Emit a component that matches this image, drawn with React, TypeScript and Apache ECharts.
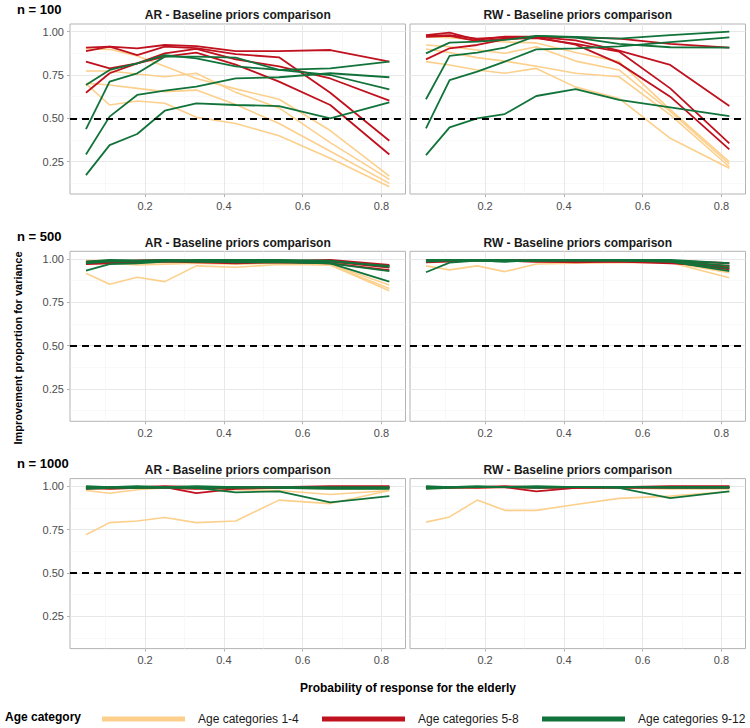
import React, { useEffect, useRef } from "react";
import * as echarts from "echarts";

// x positions (probability of response for the elderly)
const X = [0.05, 0.11, 0.18, 0.25, 0.33, 0.43, 0.54, 0.67, 0.82];

const GROUPS = ["Age categories 1-4", "Age categories 5-8", "Age categories 9-12"];
const COLORS = ["#FCD08C", "#C0111F", "#11733A"];

// ---- n = 100 ----
const ar100_age1_4 = [
  [0.9, 0.898, 0.86, 0.8, 0.73, 0.67, 0.61, 0.43, 0.167],
  [0.773, 0.773, 0.756, 0.74, 0.76, 0.65, 0.56, 0.36, 0.148],
  [0.702, 0.692, 0.673, 0.654, 0.663, 0.58, 0.47, 0.31, 0.125],
  [0.7, 0.577, 0.6, 0.587, 0.506, 0.47, 0.4, 0.27, 0.106],
];
const ar100_age5_8 = [
  [0.908, 0.913, 0.904, 0.923, 0.917, 0.888, 0.888, 0.894, 0.827],
  [0.888, 0.913, 0.865, 0.913, 0.905, 0.87, 0.852, 0.648, 0.371],
  [0.827, 0.788, 0.817, 0.875, 0.9, 0.84, 0.8, 0.73, 0.602],
  [0.648, 0.76, 0.817, 0.856, 0.879, 0.81, 0.712, 0.577, 0.292],
];
const ar100_age9_12 = [
  [0.692, 0.779, 0.817, 0.865, 0.846, 0.8, 0.779, 0.788, 0.827],
  [0.438, 0.712, 0.76, 0.856, 0.856, 0.85, 0.779, 0.75, 0.667],
  [0.292, 0.51, 0.635, 0.66, 0.683, 0.73, 0.737, 0.76, 0.737],
  [0.173, 0.346, 0.41, 0.544, 0.587, 0.577, 0.571, 0.5, 0.592],
];
const rw100_age1_4 = [
  [0.97, 0.965, 0.952, 0.94, 0.935, 0.88, 0.827, 0.55, 0.25],
  [0.923, 0.913, 0.894, 0.875, 0.913, 0.83, 0.779, 0.54, 0.237],
  [0.9, 0.88, 0.85, 0.83, 0.8, 0.76, 0.74, 0.52, 0.221],
  [0.827, 0.808, 0.779, 0.76, 0.788, 0.68, 0.615, 0.385, 0.212],
];
const rw100_age5_8 = [
  [0.98, 0.994, 0.952, 0.971, 0.971, 0.967, 0.96, 0.93, 0.908],
  [0.975, 0.98, 0.96, 0.968, 0.97, 0.95, 0.89, 0.808, 0.571],
  [0.97, 0.975, 0.945, 0.96, 0.962, 0.93, 0.885, 0.673, 0.356],
  [0.84, 0.904, 0.923, 0.956, 0.967, 0.925, 0.817, 0.625, 0.321],
];
const rw100_age9_12 = [
  [0.875, 0.937, 0.942, 0.952, 0.975, 0.97, 0.96, 0.98, 1.0],
  [0.61, 0.86, 0.879, 0.908, 0.975, 0.965, 0.93, 0.91, 0.908],
  [0.442, 0.721, 0.769, 0.827, 0.898, 0.904, 0.915, 0.94, 0.967],
  [0.288, 0.448, 0.5, 0.525, 0.629, 0.669, 0.606, 0.563, 0.513],
];

// ---- n = 500 ----
const ar500_age1_4 = [
  [0.917, 0.854, 0.894, 0.869, 0.96, 0.952, 0.968, 0.965, 0.817],
  [0.97, 0.975, 0.965, 0.97, 0.975, 0.97, 0.975, 0.965, 0.83],
  [0.98, 0.985, 0.975, 0.98, 0.985, 0.98, 0.98, 0.97, 0.85],
  [0.99, 0.99, 0.985, 0.99, 0.99, 0.985, 0.985, 0.98, 0.93],
];
const ar500_age5_8 = [
  [0.975, 0.98, 0.99, 0.99, 0.985, 0.98, 0.985, 0.995, 0.965],
  [0.98, 0.985, 0.985, 0.99, 0.99, 0.985, 0.99, 0.99, 0.96],
  [0.985, 0.99, 0.99, 0.995, 0.99, 0.99, 0.99, 0.985, 0.95],
  [0.97, 0.975, 0.98, 0.985, 0.98, 0.975, 0.98, 0.975, 0.935],
];
const ar500_age9_12 = [
  [0.933, 0.97, 0.975, 0.985, 0.985, 0.98, 0.98, 0.975, 0.869],
  [0.98, 0.99, 0.99, 0.995, 0.99, 0.99, 0.99, 0.985, 0.96],
  [0.985, 0.995, 0.99, 0.99, 0.995, 0.995, 0.995, 0.99, 0.955],
  [0.975, 0.985, 0.985, 0.99, 0.985, 0.985, 0.985, 0.975, 0.93],
];
const rw500_age1_4 = [
  [0.96, 0.937, 0.96, 0.927, 0.971, 0.975, 0.978, 0.979, 0.892],
  [0.985, 0.99, 0.99, 0.99, 0.985, 0.985, 0.985, 0.98, 0.92],
  [0.99, 0.995, 0.995, 0.995, 0.99, 0.99, 0.99, 0.985, 0.94],
  [0.995, 0.995, 0.995, 0.995, 0.995, 0.99, 0.99, 0.99, 0.96],
];
const rw500_age5_8 = [
  [0.985, 0.99, 0.995, 0.99, 0.985, 0.98, 0.985, 0.975, 0.96],
  [0.99, 0.995, 0.995, 0.995, 0.99, 0.99, 0.99, 0.985, 0.95],
  [0.995, 0.995, 0.99, 0.995, 0.995, 0.99, 0.99, 0.99, 0.975],
  [0.98, 0.985, 0.99, 0.99, 0.985, 0.985, 0.985, 0.98, 0.94],
];
const rw500_age9_12 = [
  [0.923, 0.979, 0.99, 0.985, 0.99, 0.99, 0.99, 0.985, 0.93],
  [0.995, 0.995, 0.995, 0.99, 0.995, 0.995, 0.995, 0.99, 0.96],
  [0.99, 0.995, 0.995, 0.995, 0.99, 0.995, 0.995, 0.995, 0.975],
  [0.985, 0.99, 0.99, 0.985, 0.99, 0.99, 0.99, 0.985, 0.945],
];

// ---- n = 1000 ----
const ar1000_age1_4 = [
  [0.72, 0.79, 0.8, 0.82, 0.79, 0.8, 0.92, 0.9, 0.975],
  [0.975, 0.96, 0.98, 0.99, 0.985, 0.98, 0.975, 0.952, 0.975],
  [0.99, 0.985, 0.99, 0.995, 0.99, 0.99, 0.99, 0.985, 0.985],
  [0.995, 0.995, 0.995, 0.995, 0.995, 0.995, 0.995, 0.99, 0.99],
];
const ar1000_age5_8 = [
  [0.99, 0.985, 0.99, 0.995, 0.96, 0.985, 0.99, 0.995, 0.995],
  [0.995, 0.995, 0.995, 1.0, 0.995, 0.995, 0.995, 1.0, 1.0],
  [0.985, 0.99, 0.99, 0.99, 0.985, 0.99, 0.99, 0.99, 0.99],
  [0.995, 0.99, 0.995, 0.995, 0.99, 0.99, 0.995, 0.995, 0.995],
];
const ar1000_age9_12 = [
  [0.985, 0.99, 0.99, 0.99, 0.99, 0.965, 0.97, 0.907, 0.943],
  [0.995, 0.995, 0.995, 0.995, 0.995, 0.995, 0.99, 0.985, 0.985],
  [0.99, 0.995, 0.99, 0.995, 0.99, 0.99, 0.995, 0.99, 0.99],
  [1.0, 0.995, 1.0, 0.995, 1.0, 0.995, 0.995, 0.995, 0.995],
];
const rw1000_age1_4 = [
  [0.793, 0.823, 0.92, 0.861, 0.861, 0.895, 0.93, 0.943, 0.97],
  [0.985, 0.99, 0.995, 0.995, 0.99, 0.99, 0.99, 0.985, 0.985],
  [0.995, 0.995, 0.995, 0.995, 0.995, 0.995, 0.995, 0.99, 0.99],
  [0.99, 0.99, 0.99, 0.995, 0.99, 0.99, 0.99, 0.99, 0.99],
];
const rw1000_age5_8 = [
  [0.99, 0.99, 0.995, 0.995, 0.97, 0.99, 0.995, 0.995, 0.995],
  [0.995, 0.995, 0.995, 1.0, 0.995, 0.995, 0.995, 1.0, 1.0],
  [0.99, 0.995, 0.99, 0.995, 0.99, 0.99, 0.99, 0.99, 0.99],
  [0.995, 0.995, 0.995, 0.995, 0.995, 0.995, 0.995, 0.995, 0.995],
];
const rw1000_age9_12 = [
  [0.985, 0.99, 0.995, 0.995, 0.995, 0.995, 0.99, 0.932, 0.97],
  [0.995, 0.995, 0.995, 0.995, 0.995, 0.995, 0.995, 0.99, 0.99],
  [0.99, 0.995, 0.995, 0.995, 0.99, 0.995, 0.995, 0.995, 0.995],
  [1.0, 0.995, 1.0, 0.995, 1.0, 0.995, 0.995, 0.995, 0.995],
];

const X_MAJOR = [0.2, 0.4, 0.6, 0.8];
const X_MINOR = [0.1, 0.3, 0.5, 0.7];
const Y_MAJOR = [0.25, 0.5, 0.75, 1.0];
const Y_MINOR = [0.125, 0.375, 0.625, 0.875];
const ROW_LABELS = ["n = 100", "n = 500", "n = 1000"];
const PANEL_TITLES = ["AR - Baseline priors comparison", "RW - Baseline priors comparison"];

const PANELS = [
  [ar100_age1_4, ar100_age5_8, ar100_age9_12],
  [rw100_age1_4, rw100_age5_8, rw100_age9_12],
  [ar500_age1_4, ar500_age5_8, ar500_age9_12],
  [rw500_age1_4, rw500_age5_8, rw500_age9_12],
  [ar1000_age1_4, ar1000_age5_8, ar1000_age9_12],
  [rw1000_age1_4, rw1000_age5_8, rw1000_age9_12],
];

const FONT = "'Liberation Sans', Arial, Helvetica, sans-serif";
const XMIN = 0.0095;
const XMAX = 0.861;
const YMIN = 0.064;
const YMAX = 1.044;

export default function App() {
  const ref = useRef<HTMLDivElement>(null);

  useEffect(() => {
    if (!ref.current) return;
    const chart = echarts.init(ref.current, null, { renderer: "svg" });

    const gridLeft = [70, 410];
    const gridWidth = 335.5;
    const gridTop = [24, 251.3, 478.6];
    const gridHeight = 170;

    const grids: any[] = [];
    const xAxes: any[] = [];
    const yAxes: any[] = [];
    const series: any[] = [];
    const graphics: any[] = [];

    for (let r = 0; r < 3; r++) {
      for (let c = 0; c < 2; c++) {
        const g = r * 2 + c;
        grids.push({
          left: gridLeft[c],
          top: gridTop[r],
          width: gridWidth,
          height: gridHeight,
          show: true,
          borderColor: "#b3b3b3",
          borderWidth: 1,
          backgroundColor: "transparent",
        });
        // major x
        xAxes.push({
          type: "value",
          gridIndex: g,
          min: XMIN,
          max: XMAX,
          axisLine: { show: false },
          axisTick: { show: true, customValues: X_MAJOR, length: 3, lineStyle: { color: "#b3b3b3" } },
          axisLabel: {
            show: true,
            customValues: X_MAJOR,
            formatter: (v: number) => v.toFixed(1),
            color: "#4d4d4d",
            fontSize: 11,
            fontFamily: FONT,
            margin: 6,
          },
          splitLine: { show: true, lineStyle: { color: "#e8e8e8", width: 1 } },
        });
        // minor x
        xAxes.push({
          type: "value",
          gridIndex: g,
          min: XMIN,
          max: XMAX,
          position: "bottom",
          axisLine: { show: false },
          axisTick: { show: false, customValues: X_MINOR },
          axisLabel: { show: false, customValues: X_MINOR },
          splitLine: { show: true, lineStyle: { color: "#f3f3f3", width: 0.6 } },
        });
        yAxes.push({
          type: "value",
          gridIndex: g,
          min: YMIN,
          max: YMAX,
          axisLine: { show: false },
          axisTick: { show: c === 0, customValues: Y_MAJOR, length: 3, lineStyle: { color: "#b3b3b3" } },
          axisLabel: {
            show: c === 0,
            customValues: Y_MAJOR,
            formatter: (v: number) => v.toFixed(2),
            color: "#4d4d4d",
            fontSize: 11,
            fontFamily: FONT,
            margin: 6,
          },
          splitLine: { show: true, lineStyle: { color: "#e8e8e8", width: 1 } },
        });
        yAxes.push({
          type: "value",
          gridIndex: g,
          min: YMIN,
          max: YMAX,
          axisLine: { show: false },
          axisTick: { show: false, customValues: Y_MINOR },
          axisLabel: { show: false, customValues: Y_MINOR },
          splitLine: { show: true, lineStyle: { color: "#f3f3f3", width: 0.6 } },
        });

        const groups = PANELS[g];
        groups.forEach((lines, gi) => {
          lines.forEach((vals, li) => {
            const isLast = gi === 2 && li === lines.length - 1;
            series.push({
              type: "line",
              name: GROUPS[gi],
              xAxisIndex: 2 * g,
              yAxisIndex: 2 * g,
              data: X.map((x, i) => [x, vals[i]]),
              showSymbol: false,
              symbol: "none",
              silent: true,
              lineStyle: { color: COLORS[gi], width: gi === 0 ? 1.6 : 1.8 },
              itemStyle: { color: COLORS[gi] },
              z: 2 + gi,
              markLine: isLast
                ? {
                    silent: true,
                    symbol: "none",
                    label: { show: false },
                    lineStyle: { color: "#000", type: [7, 5], width: 1.8 },
                    data: [{ yAxis: 0.5 }],
                    z: 10,
                  }
                : undefined,
            });
          });
        });

        // panel title
        graphics.push({
          type: "text",
          x: gridLeft[c] + gridWidth / 2,
          y: gridTop[r] - 8.6,
          style: {
            text: PANEL_TITLES[c],
            font: `bold 12px ${FONT}`,
            fill: "#1a1a1a",
            textAlign: "center",
            textVerticalAlign: "middle",
          },
        });
      }
      graphics.push({
        type: "text",
        x: 17,
        y: gridTop[r] - 15,
        style: {
          text: ROW_LABELS[r],
          font: `bold 13px ${FONT}`,
          fill: "#000",
          textAlign: "left",
          textVerticalAlign: "middle",
        },
      });
    }

    graphics.push({
      type: "text",
      x: 18,
      y: 348,
      rotation: Math.PI / 2,
      style: {
        text: "Improvement proportion for variance",
        font: `bold 11px ${FONT}`,
        fill: "#000",
        textAlign: "center",
        textVerticalAlign: "middle",
      },
    });
    graphics.push({
      type: "text",
      x: 408,
      y: 688,
      style: {
        text: "Probability of response for the elderly",
        font: `bold 12px ${FONT}`,
        fill: "#000",
        textAlign: "center",
        textVerticalAlign: "middle",
      },
    });
    graphics.push({
      type: "text",
      x: 5,
      y: 717,
      style: {
        text: "Age category",
        font: `bold 12px ${FONT}`,
        fill: "#000",
        textAlign: "left",
        textVerticalAlign: "middle",
      },
    });

    const legendLeft = [97, 317, 537];
    const legends = GROUPS.map((n, i) => ({
      left: legendLeft[i],
      top: 708,
      icon: "rect",
      itemWidth: 83,
      itemHeight: 5,
      selectedMode: false,
      data: [{ name: n, itemStyle: { color: COLORS[i] } }],
      textStyle: { fontSize: 12, color: "#1a1a1a", fontFamily: FONT, padding: [0, 0, 0, 8] },
    }));

    chart.setOption({
      animation: false,
      backgroundColor: "#ffffff",
      grid: grids,
      xAxis: xAxes,
      yAxis: yAxes,
      series,
      legend: legends,
      graphic: graphics,
    });

    return () => chart.dispose();
  }, []);

  return <div ref={ref} style={{ width: 750, height: 728, position: "absolute", left: 0, top: 0 }} />;
}
